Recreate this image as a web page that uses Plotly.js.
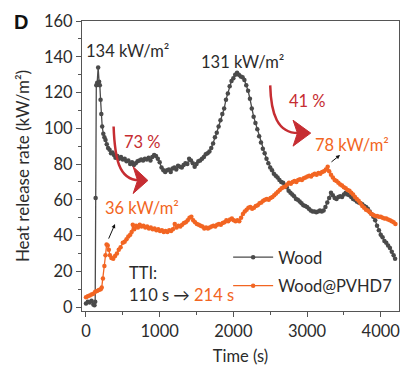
<!DOCTYPE html>
<html>
<head>
<meta charset="utf-8">
<script src="https://cdn.plot.ly/plotly-3.0.1.min.js"></script>
<style>html,body{margin:0;padding:0;background:#fff;}#chart{width:403px;height:366px;}</style>
</head>
<body>
<div id="chart"></div>
<script>
// Wood (gray)
const woodTime = [0,25,50,75,100,115,125,131,140,152,165,178,188,198,208,220,235,250,265,282,300,320,340,360,380,400,425,450,475,500,525,550,575,600,625,650,675,700,725,750,775,800,825,850,875,900,925,950,975,1000,1025,1050,1075,1100,1125,1150,1175,1200,1225,1250,1275,1300,1325,1350,1375,1400,1425,1450,1475,1500,1525,1550,1575,1600,1625,1650,1675,1700,1725,1750,1775,1800,1825,1850,1875,1900,1925,1950,1975,2000,2025,2050,2075,2100,2125,2150,2175,2200,2225,2250,2275,2300,2325,2350,2375,2400,2425,2450,2475,2500,2525,2550,2575,2600,2625,2650,2675,2700,2725,2750,2775,2800,2825,2850,2875,2900,2925,2950,2975,3000,3025,3050,3075,3100,3125,3150,3175,3200,3225,3250,3275,3300,3325,3350,3375,3400,3425,3450,3475,3500,3525,3550,3575,3600,3625,3650,3675,3700,3725,3750,3775,3800,3825,3850,3875,3900,3925,3950,3975,4000,4025,4050,4075,4100,4125,4150,4175,4195];
const woodHRR = [2,3,2.5,3.5,1.5,1,3,61,124,125.5,134,126,124,116,108,101,97,95,93.5,91,89,88,86,86.5,85,83.5,84.5,83,84,82.5,83,81.5,82,80,81,79.5,80.5,81.5,82,82.5,82,83,82.5,83.5,82,84,85,84.5,83,81,78,76.5,75.5,76.5,77,75.5,77.5,78,77,79,78.5,78,79.5,80.5,80,83,82,80.5,78.5,80,81.5,82,83,84,85.5,86,87,89,91.5,95,97.5,101,104.5,108,111,116,119.5,123.5,126.5,128,130,131,130,129,128.5,127,124,121,116.5,111,106.5,103,99.5,95.5,92,88.5,86,83,80.5,78,76.5,74.5,73.5,72.5,71,70,69.5,68,67,65,64,63,62,60.5,60,59,58,57,56.5,56,55,54,53.5,53.5,53,53.5,54,53.5,54,56,58.5,61,64,62.5,61,60.5,61.5,62,61.5,63,64,63,62.5,61.5,60.5,60,59,58.5,58,57.5,56.5,56,55,53.5,52,50.5,48.5,45.5,43,40.5,39,37,36,34.5,33,31,29,27];
// Wood@PVHD7 (orange)
const pvhdTime = [0,25,50,75,100,125,150,175,200,214,230,250,265,280,295,310,325,345,370,395,420,445,470,500,525,550,575,600,620,635,655,680,705,730,755,780,805,830,855,880,905,930,955,980,1005,1030,1055,1080,1105,1130,1155,1180,1205,1230,1255,1280,1305,1330,1355,1380,1405,1430,1455,1480,1505,1530,1555,1580,1605,1630,1655,1680,1705,1730,1755,1780,1805,1830,1855,1880,1905,1930,1955,1980,2005,2030,2055,2080,2105,2130,2155,2180,2205,2230,2255,2280,2305,2330,2355,2380,2405,2430,2455,2480,2505,2530,2555,2580,2605,2630,2655,2680,2705,2730,2755,2780,2805,2830,2855,2880,2905,2930,2955,2980,3005,3030,3055,3080,3105,3130,3155,3180,3205,3230,3255,3280,3300,3325,3350,3375,3400,3425,3450,3475,3500,3525,3550,3575,3600,3625,3650,3675,3700,3725,3750,3775,3800,3825,3850,3875,3900,3925,3950,3975,4000,4025,4050,4075,4100,4125,4150,4175,4200];
const pvhdHRR = [5.5,6,6.5,7,7.5,8.5,9,9.5,10,11,16,23,29,35,34.5,32,29,27.5,27,28.5,30,32,33.5,36,36.5,38,39.5,40.5,42,46,43.5,45.5,44.5,46,45,45.5,44.5,45,44,44.5,43.5,44,43,43.5,42.5,43,42,42.5,42,43,42.5,43.5,46.5,44.5,45.5,45,46,47,47.5,48.5,50,50.5,48.5,47.5,46.5,46,45.5,45,44,44.5,44,44.5,45,45.5,45,46,46.5,46,47,47.5,48.5,48,49,49.5,48.5,48,48.5,48,50,52,53.5,54.5,55.5,56,55,55.5,56.5,57,58,58.5,59.5,60,60.5,60,61,61.5,62.5,63.5,64.5,65.5,66.5,67,67.5,68.5,69.5,69,70,70.5,70,71,71.5,71,72,72.5,73,73.5,73,74,74.5,74,75,74.5,75.5,76,77,78.5,76,74,72.5,71,70.5,69.5,68.5,68,67,66.5,65.5,65,64,63,61.5,60.5,59.5,58,56.5,55.5,54.5,54,53,52,51.5,51,51,50.5,50.5,50,49.5,49.5,49,48.5,48,47.5,46.5];

const xTicks = [0,1000,2000,3000,4000];
const yTicks = [0,20,40,60,80,100,120,140,160];

const GRAY = '#4a4a4a', ORANGE = '#f26522', RED = '#c62d32', TXT = '#2b2b2b';
const FONT = 'Lato, "Open Sans", sans-serif';
const FS = 16.5;

const traces = [
  {x: woodTime, y: woodHRR, name: 'Wood', type: 'scatter', mode: 'lines+markers', legendgroup: 'a',
   line: {color: GRAY, width: 1.3}, marker: {color: GRAY, size: 4.5}},
  {x: pvhdTime, y: pvhdHRR, name: 'Wood@PVHD7', type: 'scatter', mode: 'lines+markers', legendgroup: 'b',
   line: {color: ORANGE, width: 1.3}, marker: {color: ORANGE, size: 4.5}}
];

function txt(x, y, text, color, extra) {
  return Object.assign({x: x, y: y, xref: 'x', yref: 'y', text: text, showarrow: false,
    font: {family: FONT, size: FS, color: color}}, extra || {});
}

const annotations = [
  txt(570, 143.5, '134 kW/m²', TXT),
  txt(2130, 137, '131 kW/m²', TXT),
  txt(770, 92.5, '73 %', RED),
  txt(3000, 115, '41 %', RED),
  txt(3610, 90.5, '78 kW/m²', ORANGE),
  txt(760, 55.5, '36 kW/m²', ORANGE),
  txt(555, 19, 'TTI:', TXT, {xanchor: 'left'}),
  txt(555, 6.5, '110 s → <span style="color:' + ORANGE + '">214 s</span>', TXT, {xanchor: 'left'}),
  {x: 394, y: 46.4, xref: 'x', yref: 'y', ax: -7, ay: 16, text: '', showarrow: true,
   arrowhead: 2, arrowsize: 0.8, arrowwidth: 1, arrowcolor: '#111'},
  {x: 3447, y: 85, xref: 'x', yref: 'y', ax: -10, ay: 8, text: '', showarrow: true,
   arrowhead: 2, arrowsize: 0.8, arrowwidth: 1, arrowcolor: '#111'},
  {x: -0.192, y: 0.997, xref: 'paper', yref: 'paper', text: '<b>D</b>', showarrow: false,
   xanchor: 'center', yanchor: 'middle', font: {family: 'Liberation Sans, Arial, sans-serif', size: 20, color: '#111'}}
];

const shapes = [
  {type: 'path', xref: 'x', yref: 'y', path: 'M 375,101 C 390,84 440,71 720,71', line: {color: RED, width: 2.5}},
  {type: 'path', xref: 'x', yref: 'y', path: 'M 640,78.5 L 840,70.8 L 640,63.5 L 700,70.8 Z', fillcolor: RED, line: {color: RED, width: 1}},
  {type: 'path', xref: 'x', yref: 'y', path: 'M 2500,124 C 2510,108 2600,97.3 2880,97.3', line: {color: RED, width: 2.5}},
  {type: 'path', xref: 'x', yref: 'y', path: 'M 2810,104.5 L 3050,97.3 L 2810,90 L 2870,97.3 Z', fillcolor: RED, line: {color: RED, width: 1}}
];

const axisCommon = {
  showgrid: false, zeroline: false, showline: true, linecolor: '#555', linewidth: 1,
  mirror: true, ticks: 'outside', ticklen: 5, tickcolor: '#555', tickwidth: 1,
  tickfont: {family: FONT, size: FS, color: TXT}
};

const layout = {
  width: 403, height: 366,
  margin: {l: 82, r: 4, t: 21, b: 55},
  paper_bgcolor: '#fff', plot_bgcolor: '#fff',
  showlegend: true,
  legend: {x: 0.461, y: 0.245, xanchor: 'left', yanchor: 'top', bgcolor: 'rgba(0,0,0,0)',
    font: {family: FONT, size: FS, color: TXT}, tracegroupgap: 4, itemwidth: 40},
  xaxis: Object.assign({}, axisCommon, {range: [-54, 4248], tickvals: xTicks, ticktext: xTicks.map(String),
    minor: {dtick: 500, ticklen: 3, tickcolor: '#555', ticks: 'outside'},
    title: {text: 'Time (s)', font: {family: FONT, size: FS, color: TXT}, standoff: 10}}),
  yaxis: Object.assign({}, axisCommon, {range: [-2.2, 160], tickvals: yTicks, ticktext: yTicks.map(String),
    minor: {dtick: 10, ticklen: 3, tickcolor: '#555', ticks: 'outside'},
    title: {text: 'Heat release rate (kW/m²)', font: {family: FONT, size: 17, color: TXT}, standoff: 10}}),
  annotations: annotations,
  shapes: shapes
};

Plotly.newPlot('chart', traces, layout, {displayModeBar: false, staticPlot: true});
</script>
</body>
</html>
